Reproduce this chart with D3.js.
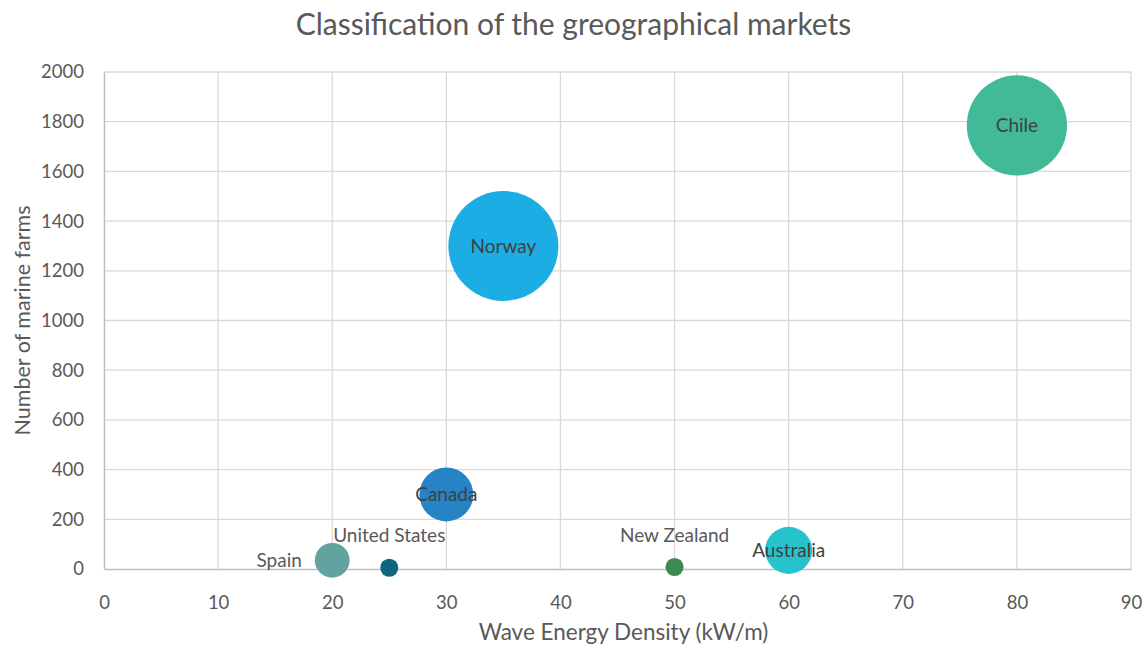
<!DOCTYPE html>
<html>
<head>
<meta charset="utf-8">
<script src="https://cdn.jsdelivr.net/npm/d3@7"></script>
<style>
  html, body { margin: 0; padding: 0; background: #fff; }
  svg { display: block; font-family: Lato, "Open Sans", sans-serif; }
</style>
</head>
<body>
<svg id="chart" width="1147" height="645"></svg>
<script>
// Markets: wave energy density vs number of marine farms, bubble = market size
const countries = ["Chile", "Norway", "Canada", "Spain", "United States", "New Zealand", "Australia"];
const waveDensity = [80, 35, 30, 20, 25, 50, 60];
const marineFarms = [1785, 1300, 300, 35, 5, 8, 75];
const marketSize = [830, 1000, 240, 100, 27, 27, 183];
const bubbleColors = ["#42BA97", "#1CADE4", "#2683C6", "#62A39F", "#10657E", "#3E8853", "#27C3CC"];
const labelPlacement = ["center", "center", "center", "left", "above", "above", "center"];

const xTicks = [0, 10, 20, 30, 40, 50, 60, 70, 80, 90];
const yTicks = [0, 200, 400, 600, 800, 1000, 1200, 1400, 1600, 1800, 2000];

const svg = d3.select("#chart");
const margin = { left: 104, right: 16, top: 72, bottom: 76 };
const W = 1147, H = 645;

const x = d3.scaleLinear().domain([0, 90]).range([margin.left, W - margin.right]);
const y = d3.scaleLinear().domain([0, 2000]).range([H - margin.bottom, margin.top]);
const r = d3.scaleSqrt().domain([0, d3.max(marketSize)]).range([0, 55]);

const textColor = "#595959";
const fontFamily = "Lato, 'Open Sans', sans-serif";

// Gridlines
svg.append("g").selectAll("line").data(yTicks.filter(d => d > 0)).join("line")
  .attr("x1", x(0)).attr("x2", x(90))
  .attr("y1", d => y(d)).attr("y2", d => y(d))
  .attr("stroke", "#d9d9d9").attr("stroke-width", 1.3);
svg.append("g").selectAll("line").data(xTicks.filter(d => d > 0)).join("line")
  .attr("x1", d => x(d)).attr("x2", d => x(d))
  .attr("y1", y(0)).attr("y2", y(2000))
  .attr("stroke", "#d9d9d9").attr("stroke-width", 1.3);

// Axes
const xAxis = svg.append("g").attr("transform", `translate(0,${y(0)})`)
  .call(d3.axisBottom(x).tickValues(xTicks).tickFormat(d3.format("d")).tickSize(0).tickPadding(24));
const yAxis = svg.append("g").attr("transform", `translate(${x(0)},0)`)
  .call(d3.axisLeft(y).tickValues(yTicks).tickFormat(d3.format("d")).tickSize(0).tickPadding(20));
[xAxis, yAxis].forEach(a => {
  a.select(".domain").attr("stroke", "#bfbfbf").attr("stroke-width", 1.5);
  a.selectAll("text").attr("fill", textColor).style("font-size", "18.5px")
    .style("font-family", fontFamily);
});
xAxis.selectAll("text").attr("dy", "0.35em").attr("y", 34);

// Bubbles
const data = countries.map((c, i) => ({
  name: c, x: waveDensity[i], y: marineFarms[i], s: marketSize[i],
  color: bubbleColors[i], place: labelPlacement[i]
}));

svg.append("g").selectAll("circle").data(data).join("circle")
  .attr("cx", d => x(d.x)).attr("cy", d => y(d.y)).attr("r", d => r(d.s))
  .attr("fill", d => d.color);

// Data labels
svg.append("g").selectAll("text").data(data).join("text")
  .attr("x", d => d.place === "left" ? x(d.x) - r(d.s) - 13 : x(d.x))
  .attr("y", d => d.place === "above" ? y(d.y) - r(d.s) - 23 : y(d.y))
  .attr("dy", "0.35em")
  .attr("text-anchor", d => d.place === "left" ? "end" : "middle")
  .attr("fill", d => d.place === "center" ? "#404040" : textColor)
  .style("font-size", "19px")
  .text(d => d.name);

// Title and axis titles
svg.append("text").attr("x", W / 2).attr("y", 24).attr("dy", "0.35em").attr("text-anchor", "middle")
  .attr("fill", textColor).style("font-size", "30px")
  .text("Classification of the greographical markets");
svg.append("text").attr("x", (x(0) + x(90)) / 2 + 6).attr("y", 632).attr("dy", "0.35em").attr("text-anchor", "middle")
  .attr("fill", textColor).style("font-size", "22.5px")
  .text("Wave Energy Density (kW/m)");
svg.append("text").attr("transform", `translate(22,${(y(0) + y(2000)) / 2}) rotate(-90)`)
  .attr("dy", "0.35em").attr("text-anchor", "middle").attr("fill", textColor).style("font-size", "21.5px")
  .text("Number of marine farms");
</script>
</body>
</html>
